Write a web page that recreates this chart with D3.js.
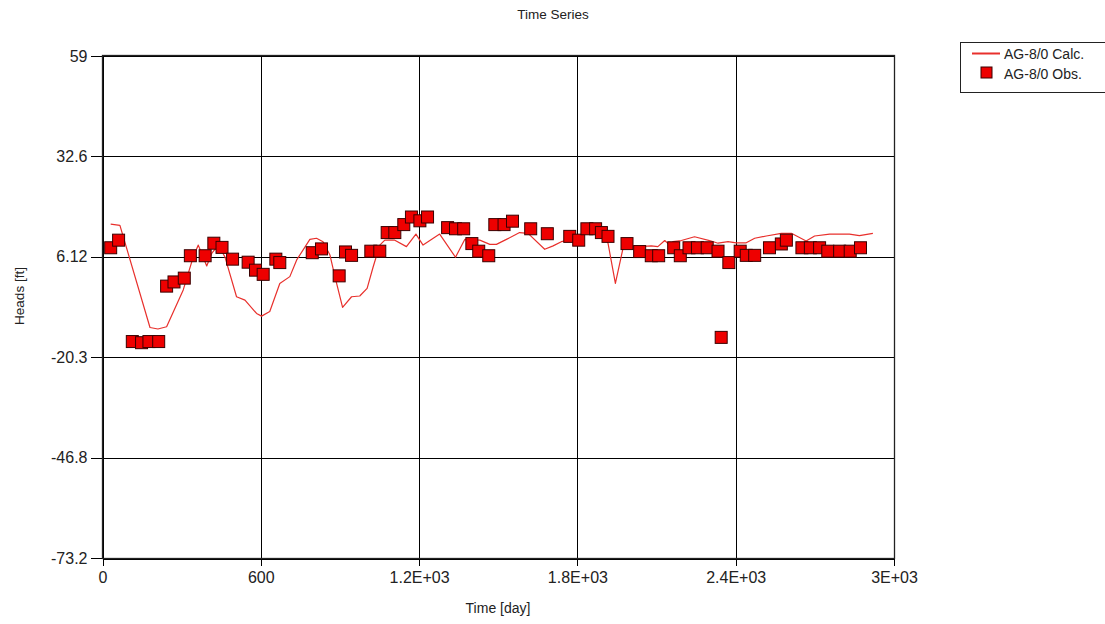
<!DOCTYPE html>
<html>
<head>
<meta charset="utf-8">
<script src="https://cdn.jsdelivr.net/npm/d3@7"></script>
<style>
  html, body { margin: 0; padding: 0; background: #fff; }
  svg text { font-family: "Liberation Sans", Arial, sans-serif; fill: #222; }
</style>
</head>
<body>
<svg id="chart" width="1105" height="624"></svg>
<script>
// Observed heads (time in days, head in ft)
const obsDays = [31, 61, 113, 148, 176, 213, 243, 271, 310, 333, 389, 422, 453, 493, 552, 580, 609, 657, 672,
  795, 830, 897, 921, 944, 1017, 1051, 1079, 1108, 1142, 1171, 1203, 1232, 1308, 1338, 1369, 1400, 1426, 1464,
  1487, 1522, 1554, 1623, 1686, 1771, 1805, 1836, 1869, 1891, 1916, 1988, 2036, 2080, 2108, 2165, 2190, 2223,
  2255, 2292, 2333, 2345, 2374, 2417, 2440, 2472, 2528, 2573, 2592, 2651, 2683, 2718, 2749, 2794, 2834, 2873];
const obsHeads = [8.5, 10.5, -16.2, -16.5, -16.2, -16.2, -1.6, -0.5, 0.5, 6.4, 6.4, 9.7, 8.6, 5.5, 4.7, 2.6, 1.5, 5.5, 4.6,
  7.2, 8.2, 1.1, 7.4, 6.5, 7.6, 7.6, 12.5, 12.5, 14.6, 16.6, 15.6, 16.6, 13.8, 13.5, 13.5, 9.6, 7.6, 6.4,
  14.6, 14.6, 15.5, 13.5, 12.2, 11.5, 10.5, 13.5, 13.5, 12.5, 11.5, 9.6, 7.5, 6.4, 6.4, 8.5, 6.4, 8.5,
  8.5, 8.5, 7.6, -15.1, 4.6, 7.6, 6.5, 6.5, 8.5, 9.5, 10.5, 8.5, 8.5, 8.5, 7.6, 7.6, 7.6, 8.5];

// Calculated heads
const calcDays = [31, 66, 180, 210, 243, 306, 344, 363, 395, 414, 439, 464, 508, 540, 584, 603, 634, 672, 710, 736,
  786, 811, 836, 862, 881, 910, 944, 975, 1003, 1026, 1051, 1070, 1108, 1152, 1188, 1215, 1278, 1338, 1373, 1430,
  1468, 1493, 1531, 1581, 1613, 1676, 1708, 1739, 1771, 1802, 1834, 1884, 1916, 1944, 1973, 1992, 2036, 2080,
  2105, 2131, 2150, 2162, 2194, 2244, 2301, 2333, 2371, 2402, 2440, 2472, 2516, 2573, 2611, 2667, 2699, 2756,
  2831, 2869, 2920];
const calcHeads = [14.7, 14.4, -12.5, -12.9, -12.3, -2.6, 6.1, 9.2, 3.7, 7.0, 9.2, 6.1, -4.4, -5.3, -8.8, -9.5, -8.3, -0.9, 0.9, 5.3,
  10.7, 11.0, 10.1, 6.6, 0.9, -7.2, -4.4, -4.2, -2.2, 3.5, 9.2, 10.5, 10.5, 8.8, 12.1, 9.2, 12.1, 6.0, 10.7, 10.5,
  9.4, 9.4, 10.7, 12.5, 12.3, 8.1, 9.0, 10.1, 10.5, 11.1, 12.7, 12.7, 9.7, -0.9, 8.4, 9.2, 8.8, 9.0,
  8.8, 10.4, 9.2, 10.1, 10.4, 11.4, 10.4, 9.7, 10.1, 9.8, 9.8, 11.0, 11.6, 12.3, 12.3, 10.3, 11.6, 12.1,
  12.1, 11.7, 12.3];

// Axis ticks
const xTicks = [0, 600, 1200, 1800, 2400, 3000];
const xTickLabels = ["0", "600", "1.2E+03", "1.8E+03", "2.4E+03", "3E+03"];
const yTicks = [59, 32.56, 6.12, -20.32, -46.76, -73.2];
const yTickLabels = ["59", "32.6", "6.12", "-20.3", "-46.8", "-73.2"];

const seriesNames = ["AG-8/0 Calc.", "AG-8/0 Obs."];

const svg = d3.select("#chart");
const plot = { left: 102.5, right: 894, top: 56, bottom: 558 };

const x = d3.scaleLinear().domain([0, 3000]).range([plot.left, plot.right]);
const y = d3.scaleLinear().domain([-73.2, 59]).range([plot.bottom, plot.top]);

// Grid
const grid = svg.append("g").attr("shape-rendering", "crispEdges");
grid.selectAll("line.v").data(xTicks).join("line")
  .attr("x1", d => Math.round(x(d)) + 0.5).attr("x2", d => Math.round(x(d)) + 0.5)
  .attr("y1", plot.top).attr("y2", plot.bottom)
  .attr("stroke", "#000").attr("stroke-width", 1);
grid.selectAll("line.h").data(yTicks).join("line")
  .attr("x1", plot.left).attr("x2", plot.right)
  .attr("y1", d => Math.round(y(d)) + 0.5).attr("y2", d => Math.round(y(d)) + 0.5)
  .attr("stroke", "#000").attr("stroke-width", 1);

// Axes
const xAxis = d3.axisBottom(x).tickValues(xTicks)
  .tickFormat((d, i) => xTickLabels[i]).tickSize(7).tickSizeOuter(0).tickPadding(6);
const gx = svg.append("g").attr("transform", `translate(0,${Math.round(plot.bottom) + 0.5})`).call(xAxis);
gx.selectAll("text").attr("font-size", 16).attr("font-family", "Liberation Sans, Arial, sans-serif").attr("fill", "#222");
gx.selectAll("line, path").attr("stroke", "#000").attr("shape-rendering", "crispEdges");

const yAxis = d3.axisLeft(y).tickValues(yTicks)
  .tickFormat((d, i) => yTickLabels[i]).tickSize(12).tickSizeOuter(0).tickPadding(3);
const gy = svg.append("g").attr("transform", `translate(${Math.round(plot.left) - 0.5},0)`).call(yAxis);
gy.selectAll("text").attr("font-size", 16).attr("font-family", "Liberation Sans, Arial, sans-serif").attr("fill", "#222");
gy.selectAll("line, path").attr("stroke", "#000").attr("shape-rendering", "crispEdges");

// Plot frame
svg.append("rect")
  .attr("x", Math.round(plot.left) - 0.5).attr("y", plot.top - 0.5)
  .attr("width", plot.right - Math.round(plot.left) + 1).attr("height", plot.bottom - plot.top + 1)
  .attr("fill", "none").attr("stroke", "#222").attr("stroke-width", 1.3);

// Calculated series line
const line = d3.line().x((d, i) => x(calcDays[i])).y(d => y(d));
svg.append("path")
  .datum(calcHeads)
  .attr("d", line)
  .attr("fill", "none")
  .attr("stroke", "#e8302c")
  .attr("stroke-width", 1.2)
  .attr("stroke-linejoin", "round");

// Observed series markers
const sq = 12;
svg.append("g").selectAll("rect").data(obsHeads).join("rect")
  .attr("x", (d, i) => x(obsDays[i]) - sq / 2)
  .attr("y", d => y(d) - sq / 2)
  .attr("width", sq).attr("height", sq)
  .attr("fill", "#ee0000")
  .attr("stroke", "#3a0000")
  .attr("stroke-width", 1);

// Titles
svg.append("text").attr("x", 553).attr("y", 19).attr("text-anchor", "middle")
  .attr("font-size", 13.5).text("Time Series");
svg.append("text").attr("x", 498).attr("y", 613).attr("text-anchor", "middle")
  .attr("font-size", 14).text("Time [day]");
svg.append("text").attr("transform", "translate(24,296) rotate(-90)").attr("text-anchor", "middle")
  .attr("font-size", 13.5).text("Heads [ft]");

// Legend
const lg = svg.append("g");
lg.append("rect").attr("x", 960.5).attr("y", 42.5).attr("width", 170).attr("height", 50)
  .attr("fill", "#fff").attr("stroke", "#222").attr("stroke-width", 1);
lg.append("line").attr("x1", 972).attr("x2", 1000).attr("y1", 53.5).attr("y2", 53.5)
  .attr("stroke", "#e8302c").attr("stroke-width", 2);
lg.append("rect").attr("x", 981).attr("y", 67).attr("width", 11).attr("height", 11)
  .attr("fill", "#ee0000").attr("stroke", "#3a0000").attr("stroke-width", 1);
lg.selectAll("text.lab").data(seriesNames).join("text")
  .attr("x", 1004).attr("y", (d, i) => 58.5 + i * 20)
  .attr("font-size", 14).text(d => d);
</script>
</body>
</html>
